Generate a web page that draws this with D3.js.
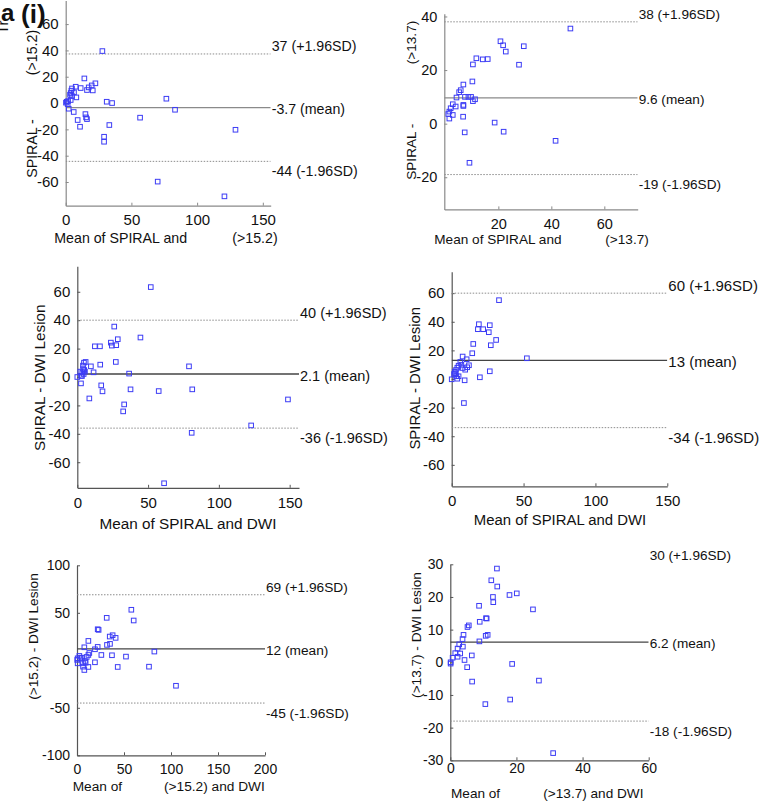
<!DOCTYPE html>
<html><head><meta charset="utf-8">
<script src="https://cdn.jsdelivr.net/npm/d3@7"></script>
<style>
body{margin:0;background:#fff}
svg text{font-family:"Liberation Sans",Arial,Helvetica,sans-serif;fill:#111}
</style>
</head><body>
<svg id="chart" width="760" height="801"></svg>
<script>
// ---------------- DATA ----------------
// Panel a(i): SPIRAL - (>15.2)
const p1Mean=[27.9,14.2,22.6,19.8,17.5,16.2,20.6,11.4,7.6,4.8,6.3,4.3,3.8,3.3,4.8,8.1,3.8,1.8,0.8,0.2,1.5,2.3,6.1,9.1,10.9,15,15.5,16.2,31.2,35.3,33.2,29.2,29.2,56.6,76.6,83.2,129.2,70,120.8];
const p1Diff=[39.5,18.7,15,13.4,11.9,9.9,9.6,11.4,12.4,11.1,8.1,9.4,7.6,6.3,5.3,4.3,2.3,1.5,1.0,0.3,-0.8,-4.3,-6.8,-12.9,-18,-8.4,-10.9,-12.2,1.0,0,-16.7,-25.6,-29.4,-11.1,3.3,-5.1,-20.3,-59.7,-70.9];
const p1Lines=[37.3,-3.5,-44.3];
const p1LineLabels=["37 (+1.96SD)","-3.7 (mean)","-44 (-1.96SD)"];

// Panel (ii): SPIRAL - (>13.7)
const p2Mean=[47.2,20.8,21.8,22.8,29.6,27.8,11.7,14.1,16,10.4,10.2,6.8,5.8,5.2,4.2,7.4,8.7,9.7,11.2,10.4,6.8,6.8,3.9,2.8,2,1.5,1.1,2.8,1.5,6.7,18.6,7.3,22,41.6,9.1];
const p2Diff=[35.5,30.75,29.25,26.9,28.9,22,24.4,24,24.1,22.1,15.75,14.6,12.5,11.75,9.75,10,10,10,9.1,8.4,7,6.6,6.4,7.25,5.75,4.5,3.6,3.25,1.9,2.6,0.4,-3.25,-3,-6.4,-14.6];
const p2Lines=[38,9.6,-19];
const p2LineLabels=["38 (+1.96SD)","9.6 (mean)","-19 (-1.96SD)"];

// Panel: SPIRAL - DWI Lesion (>15.2)
const p3Mean=[51.9,26.1,44.6,28.6,23.7,24.4,27.5,12.4,16,27.2,16.2,5.9,4.7,4,9.6,4.2,4.9,2.1,11.5,4.5,2.6,0,3.3,2.6,16.9,17.8,8.5,36.6,37.6,57.5,78.9,81.2,33.1,32.4,80.8,122.8,148.8,61.3,3.5,5.4];
const p3Diff=[63.3,35.5,27.8,26.6,24.2,22.1,22.4,21.6,21.6,10.6,8.7,10.6,10.1,8,7.5,5.6,4.9,3.8,3.3,2.1,0.9,0,0.7,-4.5,-5.9,-10.1,-15.1,2.4,-8.7,-9.9,7.5,-8.7,-19.3,-24.2,-39.3,-34.1,-15.8,-74.8,3.1,3.8];
const p3Lines=[40,2.1,-36];
const p3LineLabels=["40 (+1.96SD)","2.1 (mean)","-36 (-1.96SD)"];

// Panel: SPIRAL - DWI Lesion (>13.7)
const p4Mean=[32.9,18.9,26.5,18.2,21.9,25.8,30.9,15,27.2,14.3,52.3,7.6,10.4,6,6.7,4.8,12,10.8,7.6,9.4,3.9,3,2.1,1.6,3.2,4.8,3.9,0,9,19.6,26.5,8.5,2.5];
const p4Diff=[55.1,38.3,37.6,34.8,34.8,32.7,27.3,24.5,23.6,18,14.5,15.7,13.8,11.9,10,9.3,9.6,8.2,7.7,6.5,7.9,6.3,5.1,3.5,2.1,1.9,0.2,-0.2,-0.9,1.2,5.4,-16.8,4];
const p4Lines=[60,13,-34];
const p4LineLabels=["60 (+1.96SD)","13 (mean)","-34 (-1.96SD)"];

// Panel: (>15.2) - DWI Lesion
const p5Mean=[57.8,31.6,60.3,22,23,37.9,34.8,41.1,12.1,35.1,31.9,22,7.8,19.1,82.3,13.1,25.9,37.2,12.1,10.3,52.1,2.5,5,0.7,0.2,0.7,8.5,6.4,9.2,19.1,6.4,12.1,43.3,76.6,7.8,105.3,3.5];
const p5Diff=[53.2,44.7,41.9,32.7,32,26.4,25,23.6,20.4,17.3,16.2,14.1,13.7,11.6,9.2,7.7,5.6,5.3,5.6,3.5,3.9,4.6,2.8,2.1,0.4,-3.2,-0.7,-3.2,-2.5,-2.1,-6.7,-7,-7,-6.7,-10.2,-26.8,2.5];
const p5Lines=[69,12,-45];
const p5LineLabels=["69 (+1.96SD)","12 (mean)","-45 (-1.96SD)"];

// Panel: (>13.7) - DWI Lesion
const p6Mean=[14.1,12.4,14.2,20.1,17.9,12.9,13,8.7,25,8.9,10.8,11,5.6,5.2,4,11.3,10.7,3.7,8.8,2.7,3.8,2.2,1.5,3,2.2,0.7,6.5,4.3,0.1,0.1,5.1,18.7,6.6,26.8,10.6,18.1,31.1];
const p6Diff=[28.7,25.1,23.2,21.1,20.6,20,18.4,17.3,16.2,12.4,13.5,13.4,11.3,10.8,8.4,8.4,8.1,7.1,6.4,5.5,4.8,4.2,2.8,2.7,1.7,1.4,2.1,0.7,0,-0.4,-1.5,-0.5,-5.9,-5.6,-12.8,-11.4,-27.8];
const p6Lines=[30.4,6.2,-18];
const p6LineLabels=["30 (+1.96SD)","6.2 (mean)","-18 (-1.96SD)"];

// tick values
const p1XTicks=[0,50,100,150], p1YTicks=[-60,-40,-20,0,20,40,60];
const p2XTicks=[20,40,60], p2YTicks=[-20,0,20,40];
const p3XTicks=[0,50,100,150], p3YTicks=[-60,-40,-20,0,20,40,60];
const p4XTicks=[0,50,100,150], p4YTicks=[-60,-40,-20,0,20,40,60];
const p5XTicks=[0,50,100,150,200], p5YTicks=[-100,-50,0,50,100];
const p6XTicks=[0,20,40,60], p6YTicks=[-30,-20,-10,0,10,20,30];

// ---------------- LAYOUT ----------------
const panels=[
 {mean:p1Mean,diff:p1Diff,lines:p1Lines,labels:p1LineLabels,xt:p1XTicks,yt:p1YTicks,
  xd:[0,156],yd:[-78,78],xr:[65.7,270.7],yr:[205.7,0.4],fs:15,lfs:14.2,axc:"#8a8a8a",mc:"#8a8a8a",xgap:9,
  texts:[{t:"SPIRAL -",x:31.7,y:148.5,r:-90,a:"middle"},{t:"(>15.2)",x:31.7,y:52.5,r:-90,a:"middle"},
         {t:"Mean of SPIRAL and",x:54.3,y:238,a:"start"},{t:"(>15.2)",x:232.3,y:238,a:"start"}]},
 {mean:p2Mean,diff:p2Diff,lines:p2Lines,labels:p2LineLabels,xt:p2XTicks,yt:p2YTicks,
  xd:[-0.4,72.6],yd:[-32,41],xr:[444.3,637.7],yr:[209.4,13.8],fs:14.5,lfs:13.6,axc:"#8a8a8a",mc:"#8a8a8a",xgap:9,
  texts:[{t:"SPIRAL -",x:411.7,y:151.7,r:-90,a:"middle"},{t:"(>13.7)",x:411.7,y:42.5,r:-90,a:"middle"},
         {t:"Mean of SPIRAL and",x:434.3,y:239.3,a:"start"},{t:"(>13.7)",x:605.3,y:239.3,a:"start"}]},
 {mean:p3Mean,diff:p3Diff,lines:p3Lines,labels:p3LineLabels,xt:p3XTicks,yt:p3YTicks,
  xd:[0,156.6],yd:[-78,78],xr:[77.3,299],yr:[487.8,266.2],fs:15,lfs:14.5,axc:"#555",mc:"#444",xgap:9,
  texts:[{t:"SPIRAL - DWI Lesion",x:40,y:377.7,r:-90,a:"middle",fs:15.3},
         {t:"Mean of SPIRAL and DWI",x:188,y:523.3,a:"middle",fs:15.3}]},
 {mean:p4Mean,diff:p4Diff,lines:p4Lines,labels:p4LineLabels,xt:p4XTicks,yt:p4YTicks,
  xd:[0,150],yd:[-75,75],xr:[451.7,667.3],yr:[486.3,271.7],fs:15,lfs:15,axc:"#555",mc:"#444",xgap:9,
  texts:[{t:"SPIRAL - DWI Lesion",x:415,y:378.3,r:-90,a:"middle",fs:14.9},
         {t:"Mean of SPIRAL and DWI",x:560,y:519.3,a:"middle",fs:14.9}]},
 {mean:p5Mean,diff:p5Diff,lines:p5Lines,labels:p5LineLabels,xt:p5XTicks,yt:p5YTicks,
  xd:[0,200],yd:[-100,100],xr:[77,265],yr:[755.3,565.3],fs:14,lfs:13.7,axc:"#555",mc:"#444",xgap:8.5,
  texts:[{t:"(>15.2) - DWI Lesion",x:33.3,y:636.5,r:-90,a:"middle",fs:13.7},
         {t:"Mean of",x:72.7,y:786,a:"start",fs:13.7},{t:"(>15.2) and DWI",x:164,y:786,a:"start",fs:13.7}]},
 {mean:p6Mean,diff:p6Diff,lines:p6Lines,labels:p6LineLabels,xt:p6XTicks,yt:p6YTicks,
  xd:[0,60],yd:[-30,30],xr:[450.3,648.7],yr:[760.3,564.3],fs:14,lfs:13.6,axc:"#555",mc:"#444",xgap:3,
  texts:[{t:"(>13.7) - DWI Lesion",x:416.7,y:635,r:-90,a:"middle",fs:13.6},
         {t:"Mean of",x:451,y:793.3,a:"start",fs:13.6},{t:"(>13.7) and DWI",x:543.3,y:793.3,a:"start",fs:13.6}]}
];

const svg=d3.select("#chart");
svg.append("rect").attr("width",760).attr("height",801).attr("fill","#fff");

panels.forEach((p,i)=>{
  const x=d3.scaleLinear().domain(p.xd).range(p.xr);
  const y=d3.scaleLinear().domain(p.yd).range(p.yr);
  const g=svg.append("g");
  const cid="clip"+i;
  svg.append("defs").append("clipPath").attr("id",cid).append("rect")
    .attr("x",p.xr[0]).attr("y",p.yr[1]).attr("width",p.xr[1]-p.xr[0]).attr("height",p.yr[0]-p.yr[1]);

  // y axis
  const ya=g.append("g").attr("transform",`translate(${p.xr[0]},0)`)
    .call(d3.axisLeft(y).tickValues(p.yt).tickFormat(d3.format("d")).tickSizeInner(-3).tickSizeOuter(0).tickPadding(7));
  // x axis
  const xa=g.append("g").attr("transform",`translate(0,${p.yr[0]})`)
    .call(d3.axisBottom(x).tickValues(p.xt).tickFormat(d3.format("d")).tickSizeInner(-3).tickSizeOuter(0).tickPadding(p.xgap));
  [ya,xa].forEach(a=>{
    a.select(".domain").attr("stroke",p.axc).attr("stroke-width",1.2);
    a.selectAll(".tick line").attr("stroke",p.axc);
    a.selectAll(".tick text").attr("font-size",p.fs).attr("fill","#111")
      .attr("font-family",'"Liberation Sans",Arial,sans-serif');
  });
  ya.selectAll(".tick text").text(d=>d<0?"-"+Math.abs(d):d);
  xa.selectAll(".tick text").attr("dy","0.72em");

  // reference lines
  const lg=g.append("g").attr("clip-path",`url(#${cid})`);
  p.lines.forEach((v,k)=>{
    lg.append("line").attr("x1",p.xr[0]).attr("x2",p.xr[1]).attr("y1",y(v)).attr("y2",y(v))
      .attr("stroke",k===1?p.mc:"#8c8c8c").attr("stroke-width",k===1?1.3:1)
      .attr("stroke-dasharray",k===1?null:"1.5,1.5");
  });
  const offs=[-7.5,1.5,10];
  p.lines.forEach((v,k)=>{
    g.append("text").attr("x",p.xr[1]+1).attr("y",y(v)+offs[k]).attr("dy","0.35em")
      .attr("font-size",p.lfs).text(p.labels[k]);
  });

  // points
  const s=4.6;
  g.append("g").selectAll("rect").data(p.mean.map((m,j)=>[m,p.diff[j]])).join("rect")
    .attr("x",d=>x(d[0])-s/2).attr("y",d=>y(d[1])-s/2).attr("width",s).attr("height",s)
    .attr("fill","none").attr("stroke","#3c3cf5").attr("stroke-width",1);

  // axis labels
  p.texts.forEach(t=>{
    const tx=g.append("text").attr("font-size",t.fs||p.lfs).attr("text-anchor",t.a).attr("dy","0.35em").text(t.t);
    if(t.r){tx.attr("transform",`translate(${t.x},${t.y}) rotate(${t.r})`);}
    else{tx.attr("x",t.x).attr("y",t.y);}
  });
});

// panel tag and clipped remnants at top-left
svg.append("text").attr("transform","translate(8,34) rotate(-90)").attr("font-size",15).text("Tr");
svg.append("text").attr("x",1).attr("y",21).attr("font-size",24).attr("font-weight","bold").text("a");
svg.append("text").attr("x",21).attr("y",23).attr("font-size",26).attr("font-weight","bold").text("(i)");
</script>
</body></html>
